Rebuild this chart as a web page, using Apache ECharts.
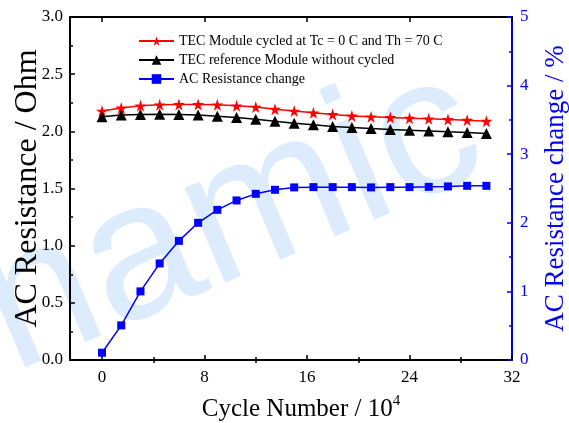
<!DOCTYPE html>
<html>
<head>
<meta charset="utf-8">
<script src="https://cdn.jsdelivr.net/npm/echarts@6/dist/echarts.min.js"></script>
<style>
html,body{margin:0;padding:0;background:#fff;}
#c{width:569px;height:423px;}
</style>
</head>
<body>
<div id="c"></div>
<script>
const cycles = [0,1.5,3,4.5,6,7.5,9,10.5,12,13.5,15,16.5,18,19.5,21,22.5,24,25.5,27,28.5,30];
const cycledModule = [2.177,2.205,2.223,2.232,2.235,2.235,2.232,2.223,2.212,2.194,2.177,2.162,2.148,2.135,2.127,2.121,2.115,2.109,2.104,2.098,2.089];
const referenceModule = [2.127,2.142,2.148,2.150,2.148,2.142,2.133,2.121,2.106,2.089,2.071,2.057,2.043,2.034,2.025,2.016,2.010,2.004,1.996,1.990,1.981];
const resistanceChange = [0.106,0.505,1.0,1.408,1.737,2.0,2.189,2.326,2.422,2.481,2.516,2.52,2.52,2.52,2.516,2.52,2.52,2.524,2.53,2.539,2.539];
const xMajorTicks = [0,8,16,24,32];
const xMinorTicks = [4,12,20,28];
const seriesNames = ['TEC Module cycled at Tc = 0 C and Th = 70 C','TEC reference Module without cycled','AC Resistance change'];

const serif = 'Liberation Serif';
const star = 'path://M50,0 L61,35 L98,35 L68,57 L79,91 L50,70 L21,91 L32,57 L2,35 L39,35 Z';
const pair = (ys) => cycles.map((x,i)=>[x,ys[i]]);

const chart = echarts.init(document.getElementById('c'));
const baseX = {
  type:'value', min:-2.5, max:32, splitLine:{show:false}
};
chart.setOption({
  animation:false,
  backgroundColor:'#fff',
  grid:{left:70,right:57,top:17,bottom:63,containLabel:false,outerBoundsMode:'none'},
  graphic:[{
    type:'text', x:-70, y:455, rotation:0.40, z:-10, silent:true,
    style:{text:'onamic', font:'195px "Liberation Sans"', fill:'#dcecfc', textAlign:'left', textVerticalAlign:'bottom'}
  }],
  legend:{
    orient:'vertical', left:138, top:34, padding:0, itemWidth:35, itemHeight:12, itemGap:5,
    textStyle:{fontFamily:serif, fontSize:14, color:'#000'},
    data:seriesNames
  },
  xAxis:[
    Object.assign({}, baseX, {
      position:'bottom',
      axisLine:{onZero:false, lineStyle:{color:'#000', width:2}},
      axisTick:{inside:true, length:5, customValues:xMajorTicks, lineStyle:{color:'#000', width:1.5}},
      axisLabel:{customValues:xMajorTicks, margin:9, fontFamily:serif, fontSize:17, color:'#000'},
      name:'Cycle Number / 10{s|4}', nameLocation:'middle', nameGap:34,
      nameTextStyle:{fontFamily:serif, fontSize:25, color:'#000', padding:[0,0,0,20],
        rich:{s:{fontFamily:serif, fontSize:15, color:'#000', verticalAlign:'top', padding:[0,0,16,0]}}}
    }),
    Object.assign({}, baseX, {
      position:'bottom', axisLine:{show:false},
      axisTick:{inside:true, length:3, customValues:xMinorTicks, lineStyle:{color:'#000', width:1.5}},
      axisLabel:{show:false}
    }),
    Object.assign({}, baseX, {
      position:'top',
      axisLine:{onZero:false, lineStyle:{color:'#000', width:2}},
      axisTick:{inside:true, length:5, customValues:xMajorTicks, lineStyle:{color:'#000', width:1.5}},
      axisLabel:{show:false}
    }),
    Object.assign({}, baseX, {
      position:'top', axisLine:{show:false},
      axisTick:{inside:true, length:3, customValues:xMinorTicks, lineStyle:{color:'#000', width:1.5}},
      axisLabel:{show:false}
    })
  ],
  yAxis:[
    {
      type:'value', position:'left', min:0, max:3, interval:0.5,
      splitLine:{show:false},
      axisLine:{show:true, onZero:false, lineStyle:{color:'#000', width:2}},
      axisTick:{show:true, inside:true, length:5, lineStyle:{color:'#000', width:1.5}},
      minorTick:{show:true, splitNumber:2, length:3, lineStyle:{color:'#000', width:1.5}},
      axisLabel:{margin:7, fontFamily:serif, fontSize:17, color:'#000', formatter:(v)=>v.toFixed(1)},
      name:'AC Resistance / Ohm', nameLocation:'middle', nameGap:26, nameRotate:90, nameMoveOverlap:false,
      nameTextStyle:{fontFamily:serif, fontSize:32, color:'#000'}
    },
    {
      type:'value', position:'right', min:0, max:5, interval:1,
      splitLine:{show:false},
      axisLine:{show:true, onZero:false, lineStyle:{color:'#0000ff', width:2}},
      axisTick:{show:true, inside:true, length:5, lineStyle:{color:'#0000ff', width:1.5}},
      minorTick:{show:true, splitNumber:2, length:3, lineStyle:{color:'#0000ff', width:1.5}},
      axisLabel:{margin:8, fontFamily:serif, fontSize:17, color:'#0000ff'},
      name:'AC Resistance change / %', nameLocation:'middle', nameGap:30, nameRotate:90,
      nameTextStyle:{fontFamily:serif, fontSize:27, color:'#0000ff'}
    }
  ],
  series:[
    {name:seriesNames[0], type:'line', xAxisIndex:0, yAxisIndex:0, data:pair(cycledModule),
     symbol:star, symbolSize:12, color:'#ff0000', lineStyle:{width:1.5, color:'#ff0000'}, itemStyle:{color:'#ff0000'}},
    {name:seriesNames[1], type:'line', xAxisIndex:0, yAxisIndex:0, data:pair(referenceModule),
     symbol:'triangle', symbolSize:11, color:'#000', lineStyle:{width:1.5, color:'#000'}, itemStyle:{color:'#000'}},
    {name:seriesNames[2], type:'line', xAxisIndex:0, yAxisIndex:1, data:pair(resistanceChange),
     symbol:'rect', symbolSize:8, color:'#0000ff', lineStyle:{width:1.5, color:'#0000ff'}, itemStyle:{color:'#0000ff'}}
  ]
});
</script>
</body>
</html>
